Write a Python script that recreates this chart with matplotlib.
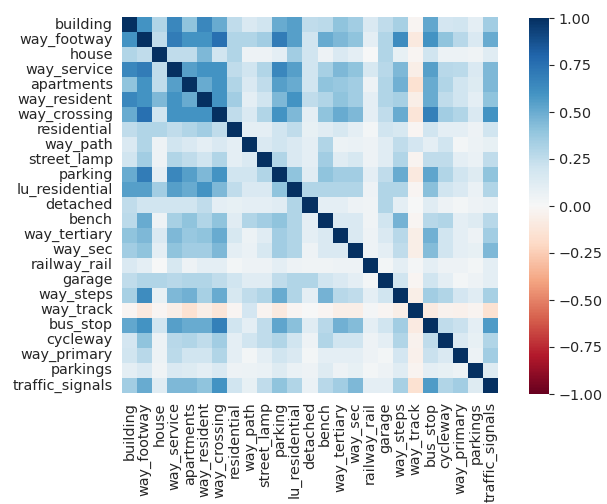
import numpy as np
import matplotlib
matplotlib.use("Agg")
import matplotlib.pyplot as plt
import seaborn as sns

labels = ["building", "way_footway", "house", "way_service", "apartments",
          "way_resident", "way_crossing", "residential", "way_path", "street_lamp",
          "parking", "lu_residential", "detached", "bench", "way_tertiary",
          "way_sec", "railway_rail", "garage", "way_steps", "way_track",
          "bus_stop", "cycleway", "way_primary", "parkings", "traffic_signals"]

# lower triangle rows (values below the diagonal)
r_way_footway = [0.60]
r_house = [0.30, 0.25]
r_way_service = [0.65, 0.70, 0.25]
r_apartments = [0.40, 0.60, 0.25, 0.55]
r_way_resident = [0.65, 0.60, 0.45, 0.60, 0.50]
r_way_crossing = [0.50, 0.75, 0.20, 0.60, 0.60, 0.60]
r_residential = [0.25, 0.30, 0.30, 0.25, 0.30, 0.35, 0.25]
r_way_path = [0.15, 0.30, 0.05, 0.20, 0.15, 0.10, 0.15, 0.10]
r_street_lamp = [0.20, 0.35, 0.05, 0.30, 0.25, 0.20, 0.30, 0.10, 0.15]
r_parking = [0.50, 0.70, 0.10, 0.65, 0.55, 0.45, 0.60, 0.20, 0.20, 0.30]
r_lu_residential = [0.55, 0.55, 0.35, 0.55, 0.50, 0.60, 0.45, 0.25, 0.15, 0.15, 0.40]
r_detached = [0.25, 0.20, 0.20, 0.20, 0.20, 0.25, 0.10, 0.08, 0.10, 0.10, 0.12, 0.30]
r_bench = [0.27, 0.50, 0.05, 0.33, 0.40, 0.30, 0.40, 0.12, 0.30, 0.35, 0.40, 0.30, 0.10]
r_way_tertiary = [0.40, 0.45, 0.15, 0.45, 0.38, 0.40, 0.50, 0.17, 0.06, 0.12, 0.35, 0.30, 0.10, 0.15]
r_way_sec = [0.35, 0.40, 0.10, 0.40, 0.35, 0.35, 0.45, 0.10, 0.07, 0.17, 0.35, 0.30, 0.05, 0.15, 0.15]
r_railway_rail = [0.15, 0.10, 0.00, 0.17, 0.05, 0.10, 0.10, 0.03, 0.05, 0.05, 0.10, 0.05, 0.04, 0.04, 0.05, 0.05]
r_garage = [0.25, 0.30, 0.30, 0.28, 0.30, 0.30, 0.25, 0.20, 0.12, 0.12, 0.25, 0.30, 0.30, 0.20, 0.15, 0.10, 0.03]
r_way_steps = [0.33, 0.63, 0.08, 0.45, 0.48, 0.33, 0.50, 0.17, 0.25, 0.30, 0.50, 0.30, 0.10, 0.47, 0.28, 0.25, 0.10, 0.20]
r_way_track = [-0.02, -0.10, -0.02, -0.07, -0.15, -0.07, -0.13, -0.02, 0.18, -0.03, -0.10, -0.02, 0.00,
               -0.02, -0.07, -0.07, 0.02, -0.02, -0.07]
r_bus_stop = [0.52, 0.60, 0.20, 0.55, 0.50, 0.50, 0.68, 0.20, 0.10, 0.25, 0.53, 0.42, 0.12, 0.28, 0.48,
              0.43, 0.10, 0.20, 0.35, -0.09]
r_cycleway = [0.18, 0.40, 0.06, 0.28, 0.30, 0.25, 0.35, 0.10, 0.20, 0.25, 0.30, 0.20, 0.05, 0.30, 0.20,
              0.20, 0.05, 0.10, 0.30, -0.04, 0.25]
r_way_primary = [0.20, 0.28, 0.06, 0.27, 0.20, 0.20, 0.30, 0.10, 0.03, 0.10, 0.20, 0.15, 0.03, 0.10, 0.10,
                 0.10, 0.05, 0.03, 0.18, -0.05, 0.22, 0.15]
r_parkings = [0.10, 0.15, 0.04, 0.15, 0.14, 0.10, 0.15, 0.05, 0.06, 0.07, 0.13, 0.07, 0.05, 0.13, 0.05,
              0.08, 0.03, 0.05, 0.12, -0.03, 0.10, 0.08, 0.06]
r_traffic_signals = [0.35, 0.50, 0.12, 0.45, 0.45, 0.40, 0.60, 0.20, 0.08, 0.25, 0.40, 0.30, 0.07, 0.28,
                     0.35, 0.45, 0.10, 0.10, 0.33, -0.15, 0.57, 0.30, 0.35, 0.13]

rows = [[], r_way_footway, r_house, r_way_service, r_apartments, r_way_resident,
        r_way_crossing, r_residential, r_way_path, r_street_lamp, r_parking,
        r_lu_residential, r_detached, r_bench, r_way_tertiary, r_way_sec,
        r_railway_rail, r_garage, r_way_steps, r_way_track, r_bus_stop,
        r_cycleway, r_way_primary, r_parkings, r_traffic_signals]

n = len(labels)
corr = np.eye(n)
for i, row in enumerate(rows):
    for j, v in enumerate(row):
        corr[i, j] = v
        corr[j, i] = v

fig = plt.figure(figsize=(6.07, 5.04), dpi=100)
ax = fig.add_axes([122 / 607, 1 - 393 / 504, 376 / 607, 376 / 504])
cax = fig.add_axes([529 / 607, 1 - 394 / 504, 20 / 607, 376 / 504])

sns.heatmap(corr, ax=ax, cbar_ax=cax, cmap="RdBu", vmin=-1, vmax=1,
            xticklabels=labels, yticklabels=labels, square=False)
ax.tick_params(length=0, pad=6.5, labelsize=10.4, colors="#262626")
ax.set_xticklabels(labels, rotation=90)
ax.set_yticklabels(labels, rotation=0)
cax.tick_params(labelsize=10.4, length=3.5, colors="#262626")
cax.set_yticks([-1, -0.75, -0.5, -0.25, 0, 0.25, 0.5, 0.75, 1])
cax.set_yticklabels(["\u22121.00", "\u22120.75", "\u22120.50", "\u22120.25", "0.00",
                     "0.25", "0.50", "0.75", "1.00"])
for s in cax.spines.values():
    s.set_visible(False)

fig.savefig("out.png", dpi=100)
